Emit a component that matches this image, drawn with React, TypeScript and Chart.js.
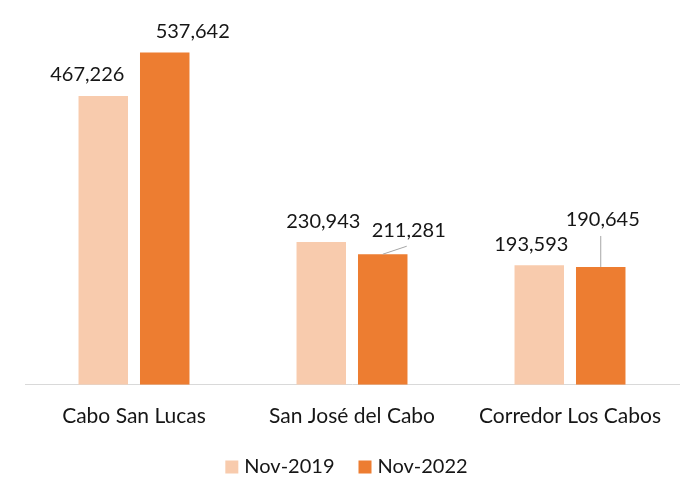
import React, { useEffect, useRef } from 'react';
import { Chart, registerables } from 'chart.js';

Chart.register(...registerables);

const categories = ['Cabo San Lucas', 'San José del Cabo', 'Corredor Los Cabos'];
const seriesNames = ['Nov-2019', 'Nov-2022'];
const nov2019 = [467226, 230943, 193593];
const nov2022 = [537642, 211281, 190645];
const yMax = 600000;

// label placement relative to bar top centre (style only)
const labelOffsets = [
  [{ dx: -16, dy: -22 }, { dx: 2, dy: -21 }, { dx: -8, dy: -21 }],
  [{ dx: 28, dy: -21 }, { dx: 26, dy: -24 }, { dx: 2, dy: -47 }],
];
const leaderLines = [
  [null, null, null],
  [null, [24, -8], [0, -31]],
];

const FONT = 'Lato';
const TEXT_COLOR = '#161616';
const COLORS = ['#F8CBAD', '#ED7D31'];

const fmt = (v: number) => v.toLocaleString('en-US');

const labelPlugin = {
  id: 'valueLabels',
  afterDatasetsDraw(chart: any) {
    const ctx = chart.ctx;
    ctx.save();
    ctx.font = `20px ${FONT}`;
    ctx.fillStyle = TEXT_COLOR;
    ctx.textAlign = 'center';
    ctx.textBaseline = 'middle';
    chart.data.datasets.forEach((ds: any, i: number) => {
      const meta = chart.getDatasetMeta(i);
      meta.data.forEach((bar: any, j: number) => {
        const off = labelOffsets[i][j];
        const leader = leaderLines[i][j];
        if (leader) {
          ctx.save();
          ctx.strokeStyle = '#A6A6A6';
          ctx.lineWidth = 1;
          ctx.beginPath();
          ctx.moveTo(bar.x, bar.y);
          ctx.lineTo(bar.x + leader[0], bar.y + leader[1]);
          ctx.stroke();
          ctx.restore();
        }
        ctx.fillText(fmt(ds.data[j]), bar.x + off.dx, bar.y + off.dy);
      });
    });
    ctx.restore();
  },
};

const legendPlugin = {
  id: 'customLegend',
  afterDraw(chart: any) {
    const ctx = chart.ctx;
    ctx.save();
    ctx.font = `20px ${FONT}`;
    ctx.textBaseline = 'middle';
    ctx.textAlign = 'left';
    const box = 13;
    const gapText = 6;
    const gapItem = 24;
    const items = chart.data.datasets.map((ds: any) => ({
      label: ds.label,
      color: ds.backgroundColor,
      w: ctx.measureText(ds.label).width,
    }));
    const total =
      items.reduce((s: number, it: any) => s + box + gapText + it.w, 0) +
      gapItem * (items.length - 1);
    let x = chart.width / 2 + 4 - total / 2;
    const cy = 467;
    items.forEach((it: any) => {
      ctx.fillStyle = it.color;
      ctx.fillRect(x, cy - box / 2, box, box);
      x += box + gapText;
      ctx.fillStyle = TEXT_COLOR;
      ctx.fillText(it.label, x, cy);
      x += it.w + gapItem;
    });
    ctx.restore();
  },
};

export default function App() {
  const ref = useRef<HTMLCanvasElement>(null);
  useEffect(() => {
    if (!ref.current) return;
    const chart = new Chart(ref.current, {
      type: 'bar',
      data: {
        labels: categories,
        datasets: [
          {
            label: seriesNames[0],
            data: nov2019,
            backgroundColor: COLORS[0],
            categoryPercentage: 0.564,
            barPercentage: 0.805,
          },
          {
            label: seriesNames[1],
            data: nov2022,
            backgroundColor: COLORS[1],
            categoryPercentage: 0.564,
            barPercentage: 0.805,
          },
        ],
      },
      options: {
        responsive: false,
        animation: false,
        layout: { padding: { top: 14, left: 25, right: 6, bottom: 31 } },
        plugins: {
          legend: { display: false },
          tooltip: { enabled: false },
        },
        scales: {
          x: {
            grid: { display: false, drawTicks: false },
            border: { display: true, color: '#D9D9D9', width: 1 },
            ticks: {
              font: { family: FONT, size: 21 },
              color: TEXT_COLOR,
              padding: 19,
              maxRotation: 0,
              autoSkip: false,
            },
          },
          y: {
            display: false,
            min: 0,
            max: yMax,
          },
        },
      },
      plugins: [labelPlugin, legendPlugin],
    });
    return () => chart.destroy();
  }, []);
  return (
    <div style={{ position: 'absolute', left: 0, top: 0, width: 685, height: 479, background: '#fff' }}>
      <canvas ref={ref} width={685} height={479} />
    </div>
  );
}
